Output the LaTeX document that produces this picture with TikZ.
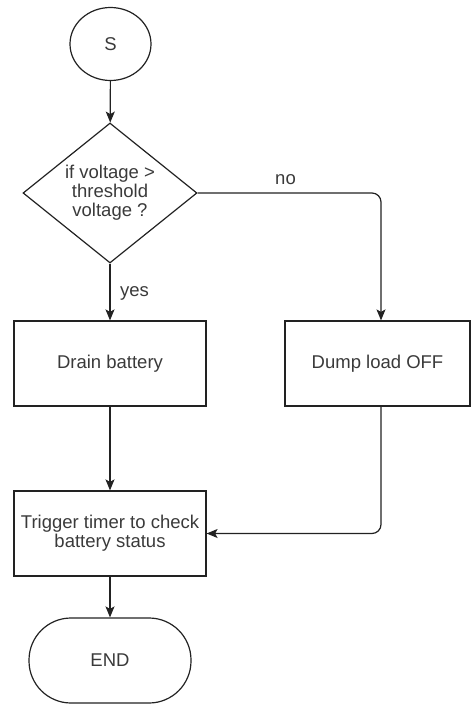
\documentclass[tikz,border=0pt]{standalone}
\usepackage{fontspec}
\setmainfont{Liberation Sans}
\usetikzlibrary{shapes.geometric,arrows.meta,positioning,calc}
\definecolor{linec}{HTML}{222222}
\definecolor{textc}{HTML}{3A3A3A}
\begin{document}
\begin{tikzpicture}[x=1pt,y=-1pt,
  every node/.style={font=\fontsize{18.5}{19.2}\selectfont, text=textc},
  base/.style={draw=linec, line width=1.2pt, inner sep=0pt, align=center},
  startnode/.style={base, ellipse, minimum width=81pt, minimum height=73pt},
  decision/.style={base, diamond, aspect=1.25, minimum width=174pt, minimum height=140pt},
  process/.style={base, rectangle, minimum width=192pt, minimum height=85pt},
  terminal/.style={base, rectangle, rounded corners=42pt, minimum width=162pt, minimum height=85pt},
  conn/.style={draw=linec, line width=1.2pt, -{Stealth[length=11pt,width=9pt,inset=2.5pt]}},
  lbl/.style={inner sep=0pt}
]
\useasboundingbox (0,0) rectangle (471,706);
\node[startnode] (s) at (110.5,44) {S};
\node[decision] (dia) at (110,193) {if voltage >\\threshold\\voltage ?};
\node[process] (drain) at (110,363.5) {Drain battery};
\node[process, minimum width=185pt] (dump) at (377.5,363.5) {Dump load OFF};
\node[process] (trig) at (110,533.5) {Trigger timer to check\\battery status};
\node[terminal] (end) at (110,660.5) {END};

\draw[conn] (s) -- (dia);
\draw[conn] (dia) -- (drain);
\draw[conn, rounded corners=9pt] (dia.east) -| ([xshift=3.5pt]dump.north);
\draw[conn] (drain) -- (trig);
\draw[conn, rounded corners=9pt] ([xshift=3.5pt]dump.south) |- (trig.east);
\draw[conn] (trig) -- (end);

\node[lbl] (no) at (285.5,180) {no};
\node[lbl, anchor=west] (yes) at (120,293) {yes};
\end{tikzpicture}
\end{document}
